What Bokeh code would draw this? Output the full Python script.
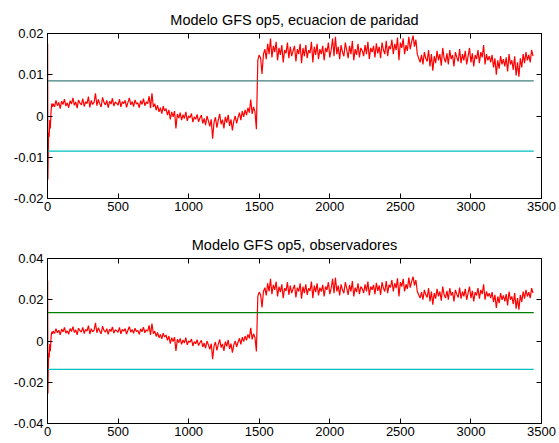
from bokeh.plotting import figure
from bokeh.models import Range1d, FixedTicker, LinearAxis, Title
from bokeh.layouts import column
from bokeh.embed import file_html
from bokeh.resources import INLINE

# ---------------- data ----------------
# sample index of the start-up transient, then one reading every 10 samples
start_samples = [1, 3, 5, 8, 12, 16, 20, 25, 30, 35]
regular_samples = list(range(40, 3441, 10))
samples = start_samples + regular_samples

# residual, parity-equation model (units of 1e-4)
parity_start_e4 = [176, -154, -100, -40, -50, -10, -30, 10, 30, 22]
parity_e4 = [
    30, 22, 38, 25, 33, 18, 36, 28, 41, 24,
    32, 20, 37, 29, 44, 26, 34, 19, 39, 31,
    27, 42, 23, 35, 30, 47, 21, 38, 28, 33,
    55, 25, 40, 30, 22, 45, 33, 27, 38, 20,
    36, 29, 43, 24, 34, 31, 26, 41, 22, 35,
    30, 38, 21, 33, 44, 27, 35, 23, 39, 29,
    32, 20, 37, 28, 42, 25, 34, 30, 48, 19,
    55, 22, 30, 14, 26, 10, 20, 6, 24, 12,
    18, 2, 15, -8, 10, -2, 12, -30, 5, -5,
    8, -10, 3, -6, 10, -12, 0, -4, 6, -15,
    -2, -8, 4, -14, -5, 2, -18, -6, -22, 0,
    -12, -25, -8, -55, -15, -3, -28, -10, 5, -20,
    -9, -30, -2, -16, 3, -24, -8, -35, -12, 0,
    -18, -4, 8, -10, 12, -2, 15, 2, 20, 8,
    40, 5, 22, 10, -32, 135, 148, 140, 102, 150,
    162, 138, 175, 150, 188, 142, 170, 155, 180, 135,
    165, 148, 172, 130, 160, 152, 178, 140, 168, 145,
    158, 170, 132, 162, 150, 175, 128, 165, 145, 172,
    140, 160, 152, 180, 130, 168, 148, 175, 138, 162,
    150, 170, 135, 165, 155, 178, 142, 160, 188, 145,
    192, 150, 168, 138, 172, 155, 145, 178, 160, 140,
    170, 150, 182, 135, 162, 148, 175, 142, 165, 158,
    145, 172, 150, 180, 138, 165, 155, 170, 142, 176,
    152, 168, 140, 178, 160, 150, 182, 145, 170, 162,
    185, 150, 175, 160, 190, 135, 178, 165, 188, 150,
    172, 158, 192, 162, 180, 195, 168, 185, 150, 140,
    130, 148, 125, 155, 140, 132, 160, 120, 150, 110,
    145, 128, 158, 135, 150, 122, 165, 140, 130, 152,
    125, 160, 138, 148, 120, 155, 142, 132, 162, 128,
    150, 135, 158, 125, 145, 165, 130, 152, 120, 148,
    138, 160, 128, 155, 142, 172, 125, 150, 135, 145,
    130, 148, 118, 140, 100, 135, 115, 145, 125, 138,
    120, 142, 108, 150, 125, 135, 112, 145, 98, 130,
    95, 140, 118, 150, 128, 155, 135, 148, 130, 160,
    145,
]

# residual, observer model (units of 1e-4)
observer_start_e4 = [293, -255, -160, -60, -80, -15, -50, 15, 45, 35]
observer_e4 = [
    48, 36, 60, 40, 52, 30, 58, 44, 66, 38,
    50, 33, 60, 46, 70, 42, 54, 30, 62, 50,
    44, 66, 36, 56, 48, 75, 34, 60, 45, 52,
    88, 40, 64, 48, 35, 72, 52, 43, 60, 32,
    58, 46, 68, 38, 54, 50, 42, 66, 35, 56,
    48, 60, 34, 52, 70, 43, 56, 37, 62, 46,
    51, 32, 59, 45, 67, 40, 54, 48, 76, 30,
    85, 35, 48, 22, 42, 16, 32, 10, 38, 19,
    29, 3, 24, -13, 16, -3, 19, -48, 8, -8,
    13, -16, 5, -10, 16, -19, 0, -6, 10, -24,
    -3, -13, 6, -22, -8, 3, -29, -10, -35, 0,
    -19, -40, -13, -88, -24, -5, -45, -16, 8, -32,
    -14, -48, -3, -26, 5, -38, -13, -56, -19, 0,
    -29, -6, 13, -16, 19, -3, 24, 3, 32, 13,
    64, 8, 35, 16, -51, 216, 237, 224, 163, 240,
    259, 221, 280, 240, 301, 227, 272, 248, 288, 216,
    264, 237, 275, 208, 256, 243, 285, 224, 269, 232,
    253, 272, 211, 259, 240, 280, 205, 264, 232, 275,
    224, 256, 243, 288, 208, 269, 237, 280, 221, 259,
    240, 272, 216, 264, 248, 285, 227, 256, 301, 232,
    307, 240, 269, 221, 275, 248, 232, 285, 256, 224,
    272, 240, 291, 216, 259, 237, 280, 227, 264, 253,
    232, 275, 240, 288, 221, 264, 248, 272, 227, 282,
    243, 269, 224, 285, 256, 240, 291, 232, 272, 259,
    296, 240, 280, 256, 304, 216, 285, 264, 301, 240,
    275, 253, 307, 259, 288, 312, 269, 296, 240, 224,
    208, 237, 200, 248, 224, 211, 256, 192, 240, 176,
    232, 205, 253, 216, 240, 195, 264, 224, 208, 243,
    200, 256, 221, 237, 192, 248, 227, 211, 259, 205,
    240, 216, 253, 200, 232, 264, 208, 243, 192, 237,
    221, 256, 205, 248, 227, 275, 200, 240, 216, 232,
    208, 237, 189, 224, 160, 216, 184, 232, 200, 221,
    192, 227, 173, 240, 200, 216, 179, 232, 157, 208,
    152, 224, 189, 240, 205, 248, 216, 237, 208, 256,
    232,
]

# detection thresholds and their extent
threshold_samples = [1, 3445]
parity_threshold = 0.0085
observer_threshold = 0.0138

titles = ["Modelo GFS op5, ecuacion de paridad", "Modelo GFS op5, observadores"]
x_ticks = [0, 500, 1000, 1500, 2000, 2500, 3000, 3500]
parity_yticks = [-0.02, -0.01, 0, 0.01, 0.02]
parity_ylabels = ["-0.02", "-0.01", "0", "0.01", "0.02"]
observer_yticks = [-0.04, -0.02, 0, 0.02, 0.04]
observer_ylabels = ["-0.04", "-0.02", "0", "0.02", "0.04"]

SCALE = 1e-4
parity = [v * SCALE for v in parity_start_e4 + parity_e4]
observer = [v * SCALE for v in observer_start_e4 + observer_e4]

FONT = "Liberation Sans"
TICK_LEN = 5


def style_axis(ax, ticks, labels=None, standoff=3):
    ax.ticker = FixedTicker(ticks=ticks)
    ax.major_tick_in = TICK_LEN
    ax.major_tick_out = 0
    ax.minor_tick_in = 0
    ax.minor_tick_out = 0
    ax.axis_line_color = "black"
    ax.major_tick_line_color = "black"
    ax.major_label_text_font = FONT
    ax.major_label_text_color = "black"
    ax.major_label_text_font_size = "13px"
    ax.major_label_standoff = standoff
    if labels is not None:
        ax.major_label_overrides = {t: l for t, l in zip(ticks, labels)}


def box_axis(ticks):
    # mirror axis of the box: inward ticks only, no labels
    ax = LinearAxis(ticker=FixedTicker(ticks=[], minor_ticks=ticks))
    ax.major_tick_in = 0
    ax.major_tick_out = 0
    ax.minor_tick_in = TICK_LEN
    ax.minor_tick_out = 0
    ax.minor_tick_line_color = "black"
    ax.axis_line_color = "black"
    return ax


def make_panel(title, ys, ylim, yticks, ylabels, thr, hi_color, lo_color,
               height, top_border, bottom_border):
    p = figure(width=559, height=height,
               x_range=Range1d(0, 3500), y_range=Range1d(*ylim),
               output_backend="svg", toolbar_location=None,
               min_border_left=47, min_border_right=18,
               min_border_top=top_border, min_border_bottom=bottom_border)
    p.title = Title(text=title, align="center", text_font=FONT,
                    text_font_size="14.5px", text_font_style="normal",
                    text_color="black", standoff=11)
    p.xgrid.visible = False
    p.ygrid.visible = False
    p.outline_line_color = "black"
    p.outline_line_alpha = 1.0
    p.background_fill_color = "white"
    p.border_fill_color = "white"
    style_axis(p.xaxis[0], x_ticks)
    style_axis(p.yaxis[0], yticks, ylabels, standoff=4)
    p.add_layout(box_axis(x_ticks), "above")
    p.add_layout(box_axis(yticks), "right")

    p.line(samples, ys, line_color="#ff0000", line_width=1.2)
    p.line(threshold_samples, [thr, thr], line_color=hi_color, line_width=1.2)
    p.line(threshold_samples, [-thr, -thr], line_color=lo_color, line_width=1.2)
    return p


p1 = make_panel(titles[0], parity, (-0.02, 0.02), parity_yticks, parity_ylabels,
                parity_threshold, "#3f7f7f", "#00bfbf", 218, 33, 20)
p2 = make_panel(titles[1], observer, (-0.04, 0.04), observer_yticks, observer_ylabels,
                observer_threshold, "#008000", "#00bfbf", 225, 40, 20)

layout = column(p1, p2, spacing=0)
open("out.html", "w").write(file_html(layout, INLINE))
